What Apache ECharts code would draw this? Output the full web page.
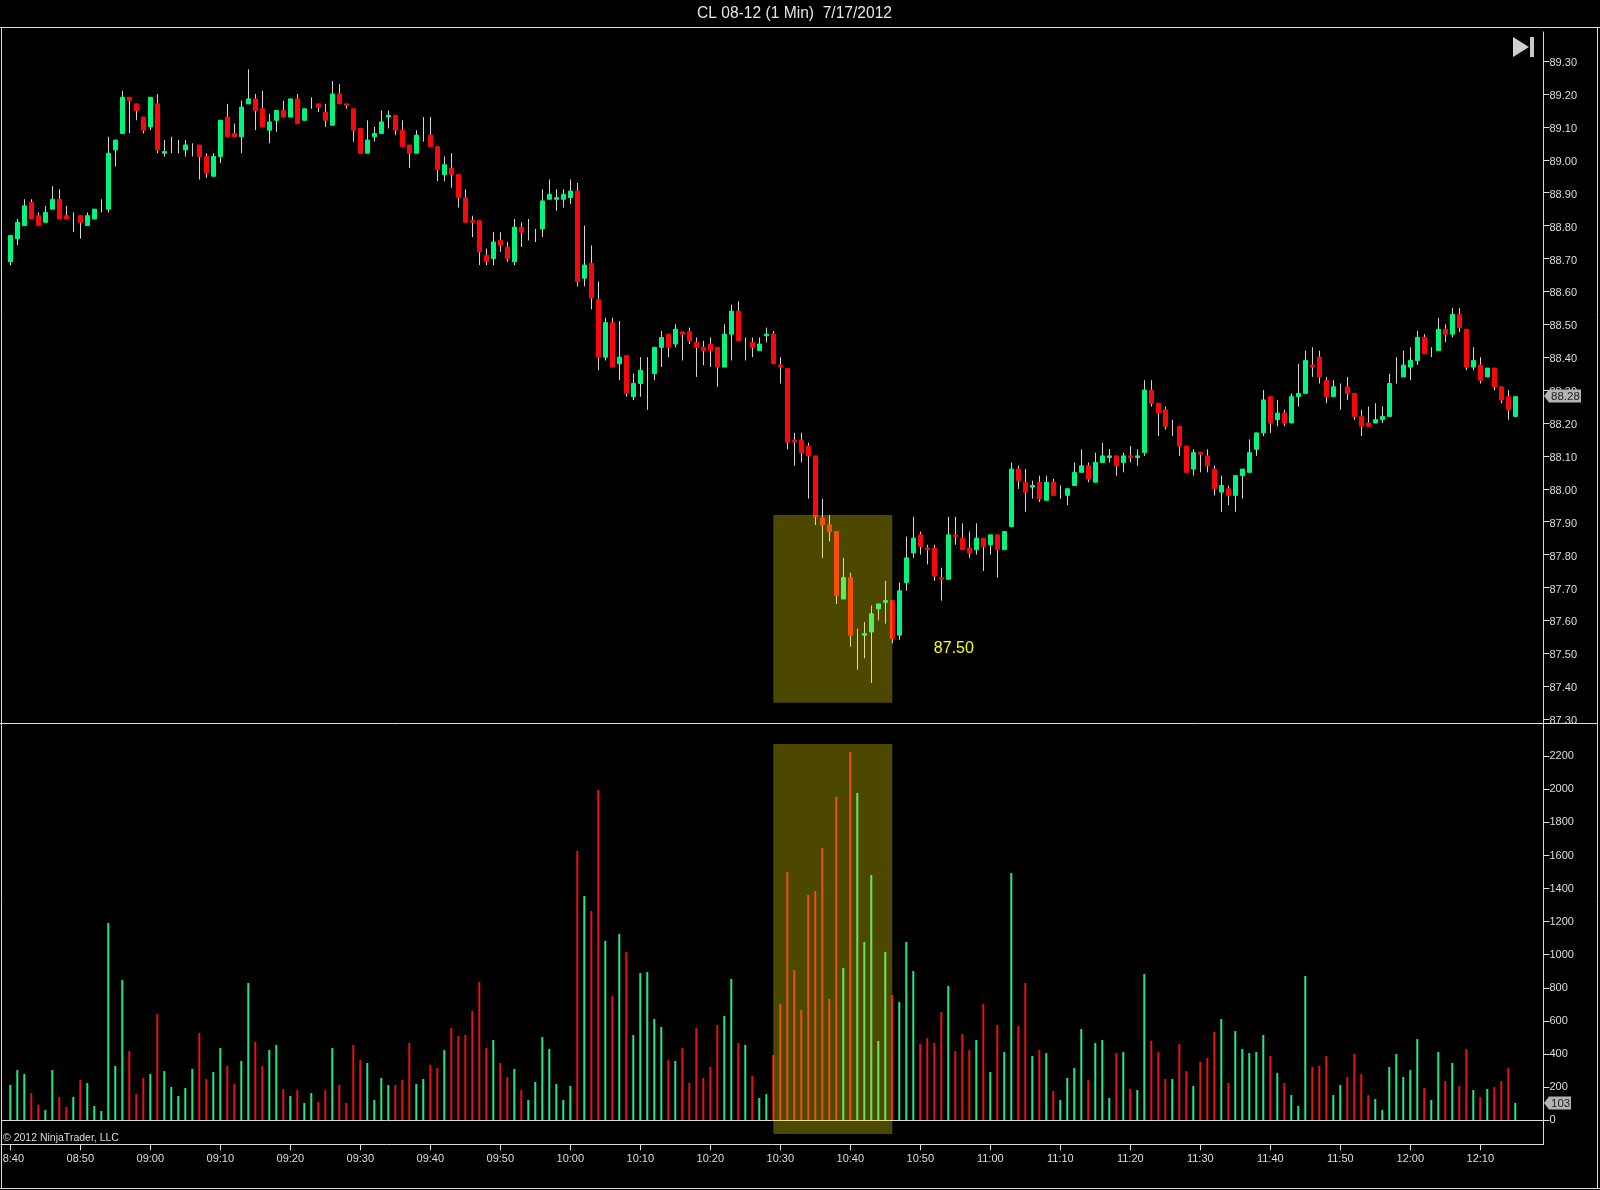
<!DOCTYPE html>
<html><head><meta charset="utf-8">
<style>html,body{margin:0;padding:0;background:#000}#c{width:1600px;height:1190px}</style>
<script src="https://cdn.jsdelivr.net/npm/echarts@6/dist/echarts.min.js"></script>
</head><body><div id="c"></div>
<script>
const chartTitle = "CL 08-12 (1 Min)  7/17/2012";
const timeTicks = [0,10,20,30,40,50,60,70,80,90,100,110,120,130,140,150,160,170,180,190,200,210];
const timeLabels = ["8:40","08:50","09:00","09:10","09:20","09:30","09:40","09:50","10:00","10:10","10:20","10:30","10:40","10:50","11:00","11:10","11:20","11:30","11:40","11:50","12:00","12:10"];
const priceTicks = [87.3,87.4,87.5,87.6,87.7,87.8,87.9,88.0,88.1,88.2,88.3,88.4,88.5,88.6,88.7,88.8,88.9,89.0,89.1,89.2,89.3];
const volumeTicks = [0,200,400,600,800,1000,1200,1400,1600,1800,2000,2200];
const opens = [
88.69,88.76,88.80,88.87,88.83,88.81,88.85,88.88,88.83,88.81,
88.83,88.80,88.82,88.85,88.85,89.03,89.08,89.19,89.17,89.13,
89.10,89.17,89.02,89.04,89.04,89.03,89.03,89.045,89.01,88.95,
89.01,89.13,89.08,89.07,89.17,89.185,89.155,89.09,89.12,89.15,
89.13,89.185,89.12,89.17,89.17,89.145,89.105,89.20,89.17,89.155,
89.095,89.02,89.07,89.08,89.13,89.135,89.09,89.045,89.02,89.09,
89.075,89.04,88.955,88.975,88.955,88.885,88.815,88.815,88.71,88.70,
88.755,88.735,88.69,88.795,88.78,88.77,88.79,88.88,88.88,88.88,
88.885,88.905,88.64,88.685,88.575,88.40,88.505,88.38,88.405,88.28,
88.32,88.33,88.35,88.43,88.47,88.44,88.477,88.477,88.445,88.43,
88.44,88.43,88.37,88.47,88.54,88.42,88.445,88.42,88.465,88.47,
88.376,88.365,88.148,88.148,88.13,88.10,87.91,87.89,87.87,87.665,
87.73,87.52,87.555,87.565,87.635,87.655,87.66,87.555,87.715,87.805,
87.86,87.82,87.82,87.73,87.725,87.86,87.85,87.82,87.815,87.85,
87.83,87.86,87.815,87.885,88.06,88.02,88.005,88.02,87.965,88.02,
87.99,87.98,88.01,88.05,88.07,88.02,88.08,88.095,88.10,88.08,
88.10,88.095,88.11,88.30,88.26,88.24,88.185,88.19,88.13,88.06,
88.11,88.10,88.06,87.99,88.00,87.98,88.04,88.05,88.12,88.17,
88.28,88.21,88.23,88.20,88.28,88.29,88.376,88.40,88.33,88.28,
88.30,88.31,88.29,88.22,88.20,88.20,88.21,88.22,88.36,88.34,
88.37,88.39,88.46,88.415,88.42,88.485,88.47,88.53,88.485,88.37,
88.376,88.34,88.367,88.31,88.28,88.22];
const closes = [
88.77,88.81,88.86,88.82,88.80,88.84,88.88,88.82,88.82,88.81,
88.81,88.83,88.85,88.85,89.02,89.06,89.19,89.18,89.15,89.09,
89.19,89.03,89.025,89.04,89.04,89.045,89.03,89.01,88.96,89.01,
89.12,89.07,89.07,89.16,89.185,89.15,89.10,89.115,89.15,89.13,
89.185,89.11,89.155,89.17,89.16,89.12,89.20,89.17,89.165,89.09,
89.02,89.06,89.08,89.115,89.135,89.09,89.04,89.02,89.075,89.09,
89.04,88.97,88.985,88.955,88.885,88.81,88.81,88.72,88.69,88.75,
88.74,88.70,88.795,88.78,88.78,88.77,88.875,88.895,88.885,88.895,
88.905,88.63,88.68,88.58,88.40,88.505,88.37,88.40,88.29,88.32,
88.36,88.33,88.43,88.46,88.43,88.485,88.47,88.45,88.43,88.42,
88.42,88.37,88.47,88.54,88.45,88.42,88.43,88.44,88.47,88.38,
88.37,88.142,88.142,88.11,88.10,87.915,87.89,87.87,87.675,87.73,
87.555,87.52,87.56,87.62,87.65,87.66,87.545,87.69,87.79,87.85,
87.825,87.815,87.735,87.725,87.86,87.855,87.815,87.805,87.85,87.825,
87.86,87.815,87.87,88.06,88.025,87.99,88.01,87.97,88.02,87.98,
87.99,88.00,88.05,88.07,88.03,88.08,88.10,88.10,88.07,88.10,
88.095,88.10,88.30,88.26,88.23,88.19,88.185,88.13,88.05,88.11,
88.105,88.07,88.00,88.01,87.98,88.04,88.06,88.11,88.17,88.27,
88.20,88.23,88.20,88.28,88.29,88.39,88.37,88.34,88.28,88.31,
88.30,88.29,88.22,88.19,88.19,88.21,88.22,88.32,88.36,88.376,
88.39,88.46,88.41,88.415,88.485,88.47,88.53,88.49,88.37,88.39,
88.33,88.367,88.31,88.27,88.24,88.28];
const lows = [
88.68,88.74,88.80,88.82,88.80,88.81,88.85,88.82,88.82,88.78,
88.76,88.80,88.82,88.84,88.84,88.98,89.08,89.08,89.12,89.08,
89.09,89.02,89.01,89.02,89.02,89.01,89.01,88.94,88.945,88.95,
88.99,89.07,89.07,89.02,89.17,89.09,89.10,89.05,89.085,89.13,
89.13,89.11,89.12,89.155,89.145,89.10,89.105,89.17,89.155,89.055,
89.02,89.02,89.055,89.08,89.095,89.075,89.04,88.975,89.02,89.055,
89.04,88.935,88.935,88.915,88.855,88.81,88.765,88.68,88.68,88.68,
88.72,88.69,88.68,88.735,88.755,88.75,88.765,88.88,88.845,88.855,
88.865,88.615,88.615,88.545,88.36,88.39,88.37,88.33,88.28,88.27,
88.28,88.24,88.33,88.37,88.40,88.43,88.39,88.44,88.34,88.375,
88.37,88.31,88.37,88.39,88.45,88.39,88.40,88.42,88.445,88.38,
88.32,88.12,88.07,88.08,87.97,87.89,87.79,87.84,87.65,87.665,
87.52,87.45,87.485,87.41,87.60,87.59,87.53,87.54,87.69,87.79,
87.80,87.77,87.72,87.66,87.725,87.83,87.815,87.79,87.80,87.75,
87.80,87.73,87.815,87.885,88.00,87.93,87.97,87.96,87.965,87.98,
87.97,87.95,88.01,88.05,88.02,88.02,88.08,88.08,88.04,88.05,
88.08,88.07,88.10,88.25,88.16,88.18,88.16,88.10,88.05,88.04,
88.05,88.05,87.98,87.93,87.95,87.93,87.97,88.05,88.10,88.16,
88.17,88.19,88.19,88.20,88.25,88.29,88.34,88.32,88.26,88.28,
88.24,88.27,88.21,88.16,88.19,88.20,88.20,88.22,88.32,88.34,
88.33,88.376,88.41,88.40,88.42,88.446,88.46,88.476,88.36,88.36,
88.32,88.34,88.30,88.26,88.21,88.22];
const highs = [
88.77,88.82,88.88,88.88,88.84,88.86,88.92,88.91,88.86,88.84,
88.83,88.84,88.85,88.88,89.07,89.06,89.21,89.19,89.17,89.13,
89.19,89.20,89.06,89.07,89.06,89.06,89.05,89.045,89.02,89.02,
89.12,89.17,89.11,89.18,89.275,89.20,89.21,89.14,89.15,89.18,
89.185,89.20,89.155,89.19,89.17,89.17,89.24,89.23,89.17,89.155,
89.095,89.12,89.10,89.15,89.15,89.135,89.12,89.045,89.09,89.13,
89.13,89.04,89.01,89.02,88.955,88.91,88.83,88.815,88.73,88.78,
88.78,88.75,88.82,88.81,88.82,88.79,88.91,88.94,88.91,88.91,
88.94,88.93,88.80,88.74,88.63,88.52,88.52,88.51,88.405,88.35,
88.40,88.40,88.43,88.48,88.47,88.50,88.477,88.49,88.46,88.45,
88.46,88.43,88.50,88.56,88.57,88.46,88.46,88.46,88.49,88.48,
88.40,88.365,88.17,88.17,88.14,88.10,87.97,87.92,87.87,87.79,
87.745,87.575,87.595,87.645,87.65,87.72,87.66,87.715,87.855,87.915,
87.87,87.83,87.83,87.76,87.915,87.915,87.895,87.87,87.895,87.85,
87.86,87.86,87.87,88.08,88.07,88.06,88.025,88.04,88.04,88.03,
88.01,88.00,88.08,88.12,88.08,88.11,88.14,88.12,88.10,88.11,
88.13,88.12,88.33,88.33,88.26,88.25,88.21,88.19,88.13,88.12,
88.11,88.12,88.07,88.04,88.01,88.04,88.06,88.15,88.17,88.30,
88.28,88.27,88.24,88.29,88.38,88.42,88.43,88.42,88.34,88.33,
88.32,88.34,88.29,88.24,88.25,88.26,88.25,88.35,88.40,88.42,
88.43,88.48,88.47,88.43,88.52,88.50,88.55,88.55,88.485,88.43,
88.40,88.367,88.367,88.31,88.30,88.28];
const volumes = [
212,302,278,163,91,60,302,139,79,139,
242,224,85,54,1192,327,847,417,157,254,
278,641,296,200,145,194,309,526,248,290,
436,327,218,357,829,472,327,424,454,188,
145,181,103,163,109,181,436,212,103,454,
363,345,121,254,212,212,242,466,218,248,
333,315,423,557,508,514,659,835,436,484,
345,260,309,181,121,230,502,430,218,121,
206,1627,1355,1264,1996,1083,750,1125,1016,514,
889,895,611,563,363,357,436,224,557,254,
321,575,629,853,466,454,266,133,157,393,
702,1500,907,665,1361,1385,1645,732,1954,920,
2226,1978,1077,1482,478,1016,756,714,1077,901,
460,496,466,653,811,417,520,423,484,702,
290,575,411,1494,569,829,387,423,405,175,
121,254,315,550,242,466,484,133,405,411,
188,181,883,480,411,248,248,460,296,206,
351,375,532,611,224,538,430,405,411,514,
387,284,224,151,85,871,321,327,387,151,
212,260,399,278,151,127,60,321,399,260,
302,490,194,121,411,236,345,206,430,181,
139,188,200,236,315,103];
const lastPrice = "88.28", lastVolume = "103", noteText = "87.50";
const notePos = [134.8, 87.513];
const zonePrice = [87.92, 87.35], zoneVolume = [2275, -85], zoneTime = [109, 126];

const UP = '#00f57f', DOWN = '#f80808', WICK = '#d4d4d4', LINE = '#dcdcdc', TXT = '#dedede';
const FONT = '"Liberation Sans", Arial, sans-serif';
const zoneStyle = {color:'rgba(255,240,0,0.30)', borderWidth:0};
const idx = opens.map((_, i) => i);
const wickData = idx.map(i => [i, opens[i], closes[i], lows[i], highs[i]]);
const bodyData = idx.filter(i => opens[i] !== closes[i]).map(i =>
  [i, opens[i], closes[i], Math.min(opens[i],closes[i]), Math.max(opens[i],closes[i])]);
const volData = idx.map(i => ({value:[i, volumes[i]],
  itemStyle:{color: closes[i] >= opens[i] ? '#22e884' : '#e81010'}}));
const xMin = -1.3286, xMax = 219.03;
const yAxisBase = {position:'right', scale:true,
  axisLine:{show:true,onZero:false,lineStyle:{color:LINE,width:1}},
  axisTick:{show:true,length:6,lineStyle:{color:LINE,width:1}},
  splitLine:{show:false}};
const labelBase = {color:TXT,fontFamily:FONT,fontSize:11,margin:6,hideOverlap:false};

const option = {
  backgroundColor:'#000', animation:false,
  grid:[{left:1,right:56.5,top:32,height:692,outerBoundsMode:'none'},
        {left:1,right:56.5,top:724,height:420.3,outerBoundsMode:'none'}],
  xAxis:[
    {type:'value',gridIndex:0,min:xMin,max:xMax,show:false,splitLine:{show:false}},
    {type:'value',gridIndex:1,min:xMin,max:xMax,position:'bottom',containShape:false,
     axisLine:{show:true,onZero:false,lineStyle:{color:LINE,width:1}},
     axisTick:{show:true,length:6,customValues:timeTicks,lineStyle:{color:LINE,width:1}},
     splitLine:{show:false},
     axisLabel:Object.assign({},labelBase,{margin:9,customValues:timeTicks,
       formatter:v=>(v===0?'  ':'')+timeLabels[timeTicks.indexOf(v)]})}
  ],
  yAxis:[
    Object.assign({},yAxisBase,{type:'value',gridIndex:0,min:87.2851,max:89.3884,
      axisTick:Object.assign({},yAxisBase.axisTick,{customValues:priceTicks}),
      axisLabel:Object.assign({},labelBase,{customValues:priceTicks,
        formatter:v=>'{p|'+v.toFixed(2)+'}',
        rich:{p:{color:TXT,fontFamily:FONT,fontSize:11,padding:[4,0,0,0]}}})}),
    Object.assign({},yAxisBase,{type:'value',gridIndex:1,min:-147,max:2395.6,
      axisTick:Object.assign({},yAxisBase.axisTick,{customValues:volumeTicks}),
      axisLabel:Object.assign({},labelBase,{customValues:volumeTicks,formatter:v=>String(v)})})
  ],
  series:[
    {type:'candlestick',name:'wick',xAxisIndex:0,yAxisIndex:0,z:2,clip:false,barWidth:1,data:wickData,
     itemStyle:{color:WICK,color0:WICK,borderColor:WICK,borderColor0:WICK,borderColorDoji:WICK,borderWidth:1},
     silent:true},
    {type:'candlestick',name:'body',xAxisIndex:0,yAxisIndex:0,z:3,clip:false,barWidth:5,data:bodyData,
     itemStyle:{color:UP,color0:DOWN,borderColor:UP,borderColor0:DOWN,borderWidth:1},
     silent:true,
     markArea:{silent:true,z:10,itemStyle:zoneStyle,
       data:[[{coord:[zoneTime[0],zonePrice[0]]},{coord:[zoneTime[1],zonePrice[1]]}]]},
     markPoint:{silent:true,symbol:'rect',symbolSize:0,z:11,
       data:[{coord:notePos,value:noteText,
         label:{show:true,position:'inside',formatter:noteText,color:'#ffff00',fontFamily:FONT,fontSize:16}}]}},
    {type:'bar',name:'volume',xAxisIndex:1,yAxisIndex:1,z:2,barWidth:2,clip:false,data:volData,silent:true,
     markLine:{silent:true,symbol:'none',z:4,label:{show:false},lineStyle:{color:LINE,width:1,type:'solid'},
       data:[{yAxis:0}]},
     markArea:{silent:true,z:10,itemStyle:zoneStyle,
       data:[[{coord:[zoneTime[0],zoneVolume[0]]},{coord:[zoneTime[1],zoneVolume[1]]}]]}}
  ],
  graphic:[
    {type:'text',left:697,top:6,silent:true,style:{text:chartTitle,fill:'#e6e6e6',font:'15.6px '+FONT}},
    {type:'line',silent:true,shape:{x1:0,y1:27.5,x2:1600,y2:27.5},style:{stroke:LINE,lineWidth:1}},
    {type:'line',silent:true,shape:{x1:1.5,y1:27,x2:1.5,y2:1189},style:{stroke:LINE,lineWidth:1}},
    {type:'line',silent:true,shape:{x1:1597.5,y1:27,x2:1597.5,y2:1189},style:{stroke:LINE,lineWidth:1}},
    {type:'line',silent:true,shape:{x1:0,y1:1188.5,x2:1600,y2:1188.5},style:{stroke:LINE,lineWidth:1}},
    {type:'line',silent:true,shape:{x1:0,y1:723.5,x2:1598,y2:723.5},style:{stroke:LINE,lineWidth:1}},
    {type:'text',left:3,top:1133,silent:true,style:{text:'© 2012 NinjaTrader, LLC',fill:TXT,font:'10.5px '+FONT}},
    {type:'polygon',silent:true,shape:{points:[[1513,37],[1529,47],[1513,57]]},style:{fill:'#d0d0d0'}},
    {type:'rect',silent:true,shape:{x:1530,y:37,width:4,height:20},style:{fill:'#c8c8c8'}},
    {type:'polygon',silent:true,z:20,shape:{points:[[1544,396],[1549,389.5],[1581,389.5],[1581,402.5],[1549,402.5]]},style:{fill:'#b4b4b4'}},
    {type:'text',silent:true,z:21,left:1551,top:391,style:{text:lastPrice,fill:'#202020',font:'11.5px '+FONT}},
    {type:'polygon',silent:true,z:20,shape:{points:[[1544,1103],[1549,1096.5],[1571,1096.5],[1571,1109.5],[1549,1109.5]]},style:{fill:'#b4b4b4'}},
    {type:'text',silent:true,z:21,left:1551,top:1098,style:{text:lastVolume,fill:'#202020',font:'11.5px '+FONT}}
  ]
};
const chart = echarts.init(document.getElementById('c'),null,{renderer:'canvas',width:1600,height:1190});
chart.setOption(option);
</script></body></html>
